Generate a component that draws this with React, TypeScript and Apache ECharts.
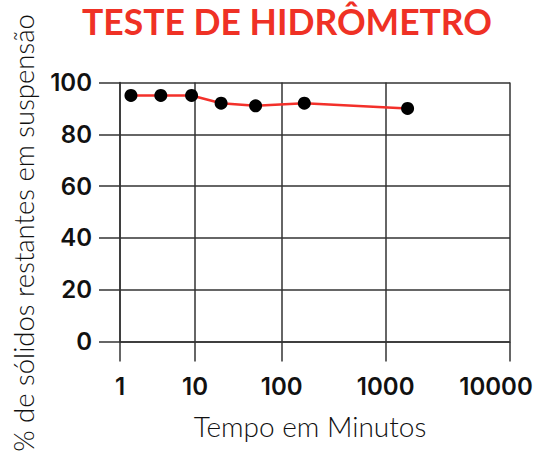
import React, { useEffect, useRef } from "react";
import * as echarts from "echarts";

// Data
const timesMinutes = [1.4, 3.5, 9, 20, 50, 165, 1500];
const percentSuspended = [95, 95, 95, 92, 91, 92, 90];
const xTickValues = [1, 10, 100, 1000, 10000];
const xTickLabels = ["1", "10", "100", "1000", "10000"];
const yTicks = [0, 20, 40, 60, 80, 100];

// The reference's time axis widens decade by decade (pixel widths per decade)
const DECADE_WIDTHS = [75, 86.7, 104, 124.3];
const DECADE_STARTS = DECADE_WIDTHS.reduce<number[]>((acc, w, i) => {
  acc.push(acc[i] + w);
  return acc;
}, [0]);

function toAxis(x: number): number {
  const l = Math.log10(x);
  const d = Math.max(0, Math.min(Math.floor(l), DECADE_WIDTHS.length - 1));
  return DECADE_STARTS[d] + (l - d) * DECADE_WIDTHS[d];
}

const LINE = "#333333";
const FONT = "Lato";
const TICK_FONT = "Inter";

export default function App() {
  const ref = useRef<HTMLDivElement>(null);
  useEffect(() => {
    if (!ref.current) return;
    const chart = echarts.init(ref.current, null, { renderer: "svg" });
    const tickPos = xTickValues.map(toAxis);
    chart.setOption({
      animation: false,
      backgroundColor: "#ffffff",
      title: {
        text: "TESTE DE HIDRÔMETRO",
        left: 77,
        top: -2,
        textStyle: {
          color: "#ef3125",
          fontFamily: FONT,
          fontWeight: "bold",
          fontSize: 35.5,
        },
      },
      grid: {
        left: 120,
        right: 32,
        top: 82.5,
        bottom: 109.5,
        outerBoundsMode: "none",
        containLabel: false,
      },
      xAxis: {
        type: "value",
        min: 0,
        max: DECADE_STARTS[DECADE_STARTS.length - 1],
        name: "Tempo em Minutos",
        nameLocation: "middle",
        nameGap: 70,
        nameTextStyle: {
          color: "#111",
          fontFamily: FONT,
          fontSize: 28,
          fontWeight: 300,
          padding: [0, 10, 0, 0],
        },
        axisLine: { show: true, lineStyle: { color: LINE, width: 1.5 } },
        axisTick: {
          show: true,
          inside: false,
          length: 20,
          customValues: tickPos,
          lineStyle: { color: LINE, width: 1.5 },
        },
        axisLabel: {
          customValues: tickPos,
          margin: 33,
          color: "#111",
          fontFamily: TICK_FONT,
          fontWeight: 600,
          fontSize: 24,
          formatter: (v: number) => {
            let best = 0;
            tickPos.forEach((p, i) => {
              if (Math.abs(p - v) < Math.abs(tickPos[best] - v)) best = i;
            });
            return best === xTickLabels.length - 1
              ? "{last|" + xTickLabels[best] + "}"
              : xTickLabels[best];
          },
          rich: {
            last: {
              color: "#111",
              fontFamily: TICK_FONT,
              fontWeight: 600,
              fontSize: 24,
              padding: [0, 28, 0, 0],
            },
          },
        },
        splitLine: { show: true, lineStyle: { color: LINE, width: 1.5 } },
      },
      yAxis: {
        type: "value",
        min: yTicks[0],
        max: yTicks[yTicks.length - 1],
        interval: 20,
        axisLine: { show: true, lineStyle: { color: LINE, width: 1.5 } },
        axisTick: {
          show: true,
          inside: false,
          length: 21,
          lineStyle: { color: LINE, width: 1.5 },
        },
        axisLabel: {
          margin: 28,
          color: "#111",
          fontFamily: TICK_FONT,
          fontWeight: 600,
          fontSize: 24,
        },
        splitLine: { show: true, lineStyle: { color: LINE, width: 1.5 } },
      },
      graphic: [
        {
          type: "text",
          x: 23,
          y: 233,
          rotation: Math.PI / 2,
          style: {
            text: "% de sólidos restantes em suspensão",
            fontFamily: FONT,
            fontSize: 27.5,
            fontWeight: 300,
            fill: "#111",
            align: "center",
            verticalAlign: "middle",
          },
        },
      ],
      series: [
        {
          type: "line",
          data: timesMinutes.map((t, i) => [toAxis(t), percentSuspended[i]]),
          lineStyle: { color: "#f3302a", width: 2.5 },
          itemStyle: { color: "#000000" },
          symbol: "circle",
          symbolSize: 13,
          z: 5,
        },
      ],
    });
    return () => chart.dispose();
  }, []);
  return (
    <div
      ref={ref}
      style={{ position: "fixed", left: 0, top: 0, width: 542, height: 451 }}
    />
  );
}
